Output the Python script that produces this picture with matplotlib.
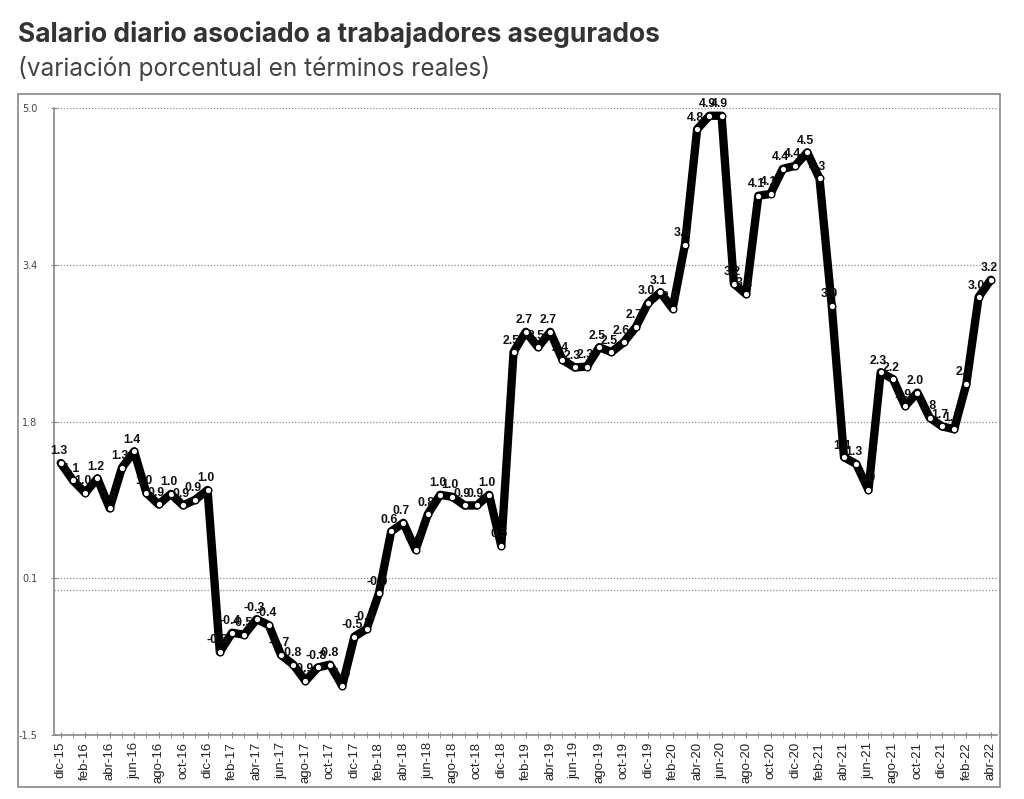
import numpy as np
import matplotlib.pyplot as plt
from matplotlib.patches import Rectangle

# Meses (dic-15 a abr-22)
meses_abr = ["ene", "feb", "mar", "abr", "may", "jun",
             "jul", "ago", "sep", "oct", "nov", "dic"]
fechas = ["dic-15"] + [f"{m}-{a}" for a in range(16, 23) for m in meses_abr][:76]

# Variación porcentual real del salario diario
valores = [
    1.32, 1.14, 1.01, 1.16, 0.85, 1.27, 1.44, 1.01, 0.89, 1.00, 0.88, 0.94, 1.04,
    -0.64, -0.44, -0.46, -0.30, -0.36, -0.67, -0.77, -0.94, -0.80, -0.77, -0.99,
    -0.48, -0.40, -0.03, 0.61, 0.70, 0.42, 0.79, 0.99, 0.97, 0.88, 0.88, 0.99, 0.46,
    2.47, 2.68, 2.52, 2.68, 2.39, 2.31, 2.32, 2.52, 2.47, 2.57, 2.73,
    2.98, 3.09, 2.92, 3.58, 4.78, 4.92, 4.92, 3.18, 3.07, 4.09, 4.11, 4.37, 4.40,
    4.54, 4.27, 2.95, 1.38, 1.31, 1.04, 2.26, 2.19, 1.91, 2.05, 1.79, 1.70, 1.67,
    2.14, 3.04, 3.22,
]

# Eje y: cinco marcas entre -1.5 y 5.0
yticks = np.linspace(-1.5, 5.0, 5)

fig = plt.figure(figsize=(10.24, 7.99), dpi=100)
ax = fig.add_axes([0.0527, 0.0801, 0.9209, 0.7847])

# Marco exterior
fig.patches.append(Rectangle((0.0176, 0.015), 0.959, 0.867, transform=fig.transFigure,
                             fill=False, edgecolor="#888888", linewidth=1.2))

# Títulos
fig.text(0.0176, 0.948, "Salario diario asociado a trabajadores asegurados",
         fontsize=19, fontweight="bold", color="#333333", family="Inter")
fig.text(0.0176, 0.905, "(variación porcentual en términos reales)",
         fontsize=17.5, color="#444444", family="Inter")

x = np.arange(len(valores))

# Líneas de referencia punteadas
for yv in list(yticks) + [0.0]:
    ax.axhline(yv, color="#888888", linestyle=(0, (1, 1.5)), linewidth=0.9, zorder=1)

ax.plot(x, valores, color="black", linewidth=6, zorder=3,
        solid_joinstyle="round", solid_capstyle="round")
ax.plot(x, valores, linestyle="none", marker="o", markersize=4.8,
        markerfacecolor="white", markeredgecolor="black", markeredgewidth=1.0, zorder=4)

for xi, v in zip(x, valores):
    ax.annotate(f"{v:.1f}", (xi, v), xytext=(-1.5, 4), textcoords="offset points",
                ha="center", va="bottom", fontsize=8.8, fontweight="bold",
                family="Liberation Sans", color="#111111", zorder=5)

ax.set_ylim(-1.5, 5.0)
ax.set_xlim(-0.55, 76.5)
ax.set_yticks(yticks)
ax.set_yticklabels([f"{t:.1f}" for t in yticks])
ax.set_xticks(x, minor=True)
ax.set_xticks(x[::2])
ax.set_xticklabels(fechas[::2], rotation=90)

for s in ["top", "right"]:
    ax.spines[s].set_visible(False)
for s in ["left", "bottom"]:
    ax.spines[s].set_color("#888888")
    ax.spines[s].set_linewidth(1.2)

ax.tick_params(axis="y", labelsize=7, colors="#888888", labelcolor="#444444",
               length=4, direction="inout", pad=10)
ax.tick_params(axis="x", which="both", colors="#888888", length=4, direction="inout")
ax.tick_params(axis="x", labelsize=9.5, labelcolor="#222222", pad=3)
for lab in ax.get_xticklabels():
    lab.set_family("Liberation Sans")

fig.savefig("out.png", dpi=100)
